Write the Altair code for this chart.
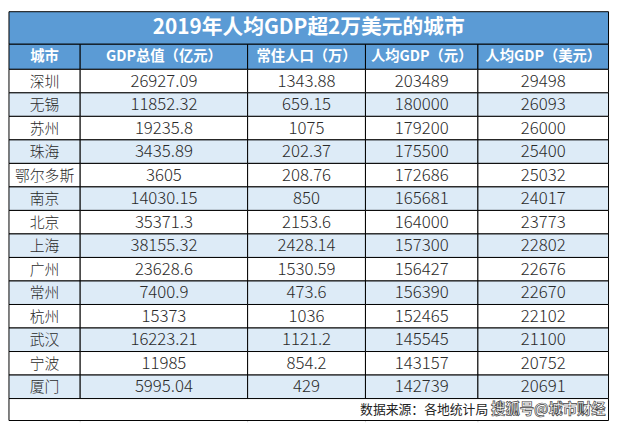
import altair as alt
import pandas as pd

# ---------------- data ----------------
title = "2019年人均GDP超2万美元的城市"
headers = ["城市", "GDP总值（亿元）", "常住人口（万）", "人均GDP（元）", "人均GDP（美元）"]
cities = ["深圳", "无锡", "苏州", "珠海", "鄂尔多斯", "南京", "北京", "上海", "广州",
          "常州", "杭州", "武汉", "宁波", "厦门"]
gdp = ["26927.09", "11852.32", "19235.8", "3435.89", "3605", "14030.15", "35371.3",
       "38155.32", "23628.6", "7400.9", "15373", "16223.21", "11985", "5995.04"]
population = ["1343.88", "659.15", "1075", "202.37", "208.76", "850", "2153.6",
              "2428.14", "1530.59", "473.6", "1036", "1121.2", "854.2", "429"]
gdp_pc_cny = [203489, 180000, 179200, 175500, 172686, 165681, 164000, 157300,
              156427, 156390, 152465, 145545, 143157, 142739]
gdp_pc_usd = [29498, 26093, 26000, 25400, 25032, 24017, 23773, 22802, 22676,
              22670, 22102, 21100, 20752, 20691]
footer = "数据来源：各地统计局"
watermark = "搜狐号@城市财经"

# ---------------- layout ----------------
col_edges = [3.5, 76, 246.5, 366.5, 481, 614]
title_top, header_top, body_top = 3.5, 36.7, 62.3
row_h = 24.0
footer_bottom = 420.7
BLUE = "#5B9BD5"
BAND = "#DDEBF7"

xs = alt.Scale(domain=[2.5, 615.5], range=[0, 610])
ys = alt.Scale(domain=[2.5, 422.5], range=[0, 417])

rects = []
texts_cn = []
texts_num = []
# title
rects.append(dict(x=col_edges[0], x2=col_edges[-1], y=title_top, y2=header_top, fill=BLUE))
# header
hdr = []
for j, h in enumerate(headers):
    rects.append(dict(x=col_edges[j], x2=col_edges[j + 1], y=header_top, y2=body_top, fill=BLUE))
    hdr.append(dict(xc=(col_edges[j] + col_edges[j + 1]) / 2, yc=(header_top + body_top) / 2 + 0.5, t=h))
# body
nrows = len(cities)
for i in range(nrows):
    y0 = body_top + i * row_h
    y1 = y0 + row_h
    fill = BAND if i % 2 == 1 else "#FFFFFF"
    vals = [cities[i], gdp[i], population[i], str(gdp_pc_cny[i]), str(gdp_pc_usd[i])]
    for j, v in enumerate(vals):
        rects.append(dict(x=col_edges[j], x2=col_edges[j + 1], y=y0, y2=y1, fill=fill))
        rec = dict(xc=(col_edges[j] + col_edges[j + 1]) / 2, yc=(y0 + y1) / 2 + 0.5, t=v)
        (texts_cn if j == 0 else texts_num).append(rec)
fy0 = body_top + nrows * row_h
rects.append(dict(x=col_edges[0], x2=col_edges[-1], y=fy0, y2=footer_bottom, fill="#FFFFFF"))

grid = [dict(x=e, x2=e, y=footer_bottom, y2=422.5) for e in col_edges[1:-1]]

rect_df = pd.DataFrame(rects)
font = "Noto Sans CJK SC"

cells = alt.Chart(rect_df).mark_rect(stroke="#000000", strokeWidth=1).encode(
    x=alt.X("x:Q", scale=xs, axis=None),
    x2="x2:Q",
    y=alt.Y("y:Q", scale=ys, axis=None),
    y2="y2:Q",
    fill=alt.Fill("fill:N", scale=None),
)

gridlines = alt.Chart(pd.DataFrame(grid)).mark_rule(color="#D4D4D4", strokeWidth=1).encode(
    x=alt.X("x:Q", scale=xs, axis=None),
    y=alt.Y("y:Q", scale=ys, axis=None),
    y2="y2:Q",
)

title_layer = alt.Chart(pd.DataFrame([dict(xc=(col_edges[0] + col_edges[-1]) / 2,
                                          yc=(title_top + header_top) / 2 + 0.5, t=title)])).mark_text(
    font=font, fontSize=21, fontWeight="bold", color="#FFFFFF", baseline="middle", align="center"
).encode(x=alt.X("xc:Q", scale=xs, axis=None), y=alt.Y("yc:Q", scale=ys, axis=None), text="t:N")

header_layer = alt.Chart(pd.DataFrame(hdr)).mark_text(
    font=font, fontSize=14.5, fontWeight="bold", color="#FFFFFF", baseline="middle", align="center"
).encode(x=alt.X("xc:Q", scale=xs, axis=None), y=alt.Y("yc:Q", scale=ys, axis=None), text="t:N")

city_layer = alt.Chart(pd.DataFrame(texts_cn)).mark_text(
    font=font, fontSize=15, fontWeight=300, color="#2a2a2a", baseline="middle", align="center"
).encode(x=alt.X("xc:Q", scale=xs, axis=None), y=alt.Y("yc:Q", scale=ys, axis=None), text="t:N")

num_layer = alt.Chart(pd.DataFrame(texts_num)).mark_text(
    font=font, fontSize=17, fontWeight=300, color="#2a2a2a", baseline="middle", align="center"
).encode(x=alt.X("xc:Q", scale=xs, axis=None), y=alt.Y("yc:Q", scale=ys, axis=None), text="t:N")

fy_c = (fy0 + footer_bottom) / 2 + 0.5
footer_layer = alt.Chart(pd.DataFrame([dict(xc=361, yc=fy_c, t=footer)])).mark_text(
    font=font, fontSize=13, color="#222222", baseline="middle", align="left"
).encode(x=alt.X("xc:Q", scale=xs, axis=None), y=alt.Y("yc:Q", scale=ys, axis=None), text="t:N")

wm_layer = alt.Chart(pd.DataFrame([dict(xc=611, yc=fy_c, t=watermark)])).mark_text(
    font=font, fontSize=14.5, fontWeight="bold", color="#FFFFFF", stroke="#444444", strokeWidth=0.7,
    baseline="middle", align="right"
).encode(x=alt.X("xc:Q", scale=xs, axis=None), y=alt.Y("yc:Q", scale=ys, axis=None), text="t:N")

chart = alt.layer(
    gridlines, cells, title_layer, header_layer, city_layer, num_layer, footer_layer, wm_layer
).properties(
    width=610, height=417, padding=0, autosize=alt.AutoSizeParams(type="none"),
    background="#FFFFFF"
).configure_view(stroke=None)

chart.save("out.html", embed_options={"renderer": "svg", "actions": False})
